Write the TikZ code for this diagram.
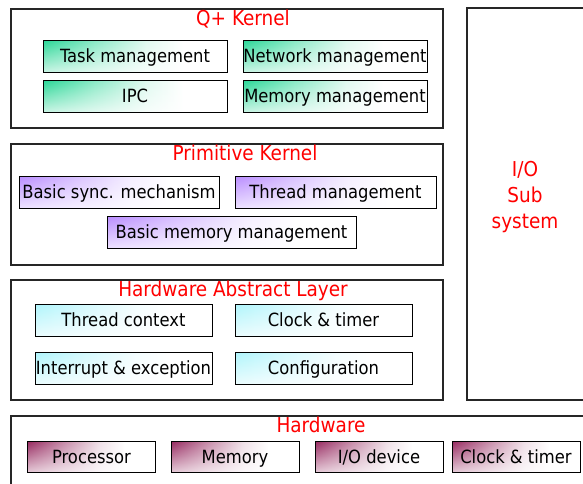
\documentclass[tikz,border=0pt]{standalone}
\usepackage{fontspec}
\setmainfont{DejaVu Sans Condensed}
\usetikzlibrary{positioning,fadings}

\definecolor{qgreen}{RGB}{40,215,150}
\definecolor{pviolet}{RGB}{185,140,255}
\definecolor{hcyan}{RGB}{175,245,252}
\definecolor{hwred}{RGB}{150,40,95}

% colour on the left, white towards the right
\newcommand\fadeshading[2]{%
  \pgfdeclarehorizontalshading{#1}{100bp}{color(0bp)=(#2); color(25bp)=(#2);
    color(39bp)=(#2!55!white); color(53bp)=(#2!15!white); color(63bp)=(white); color(100bp)=(white)}}
\fadeshading{greenfade}{qgreen}
\fadeshading{violetfade}{pviolet}
\fadeshading{cyanfade}{hcyan}
\fadeshading{redfade}{hwred}

% paler towards the bottom
\tikzfading[name=downfade, top color=transparent!100, bottom color=transparent!25]

\tikzset{
  layer/.style={draw=black!85, line width=1.6pt, inner sep=0pt},
  title/.style={text=red, inner sep=0pt, font=\fontsize{20.5}{26}\selectfont},
  module/.style={draw=black, line width=0.7pt, inner sep=0pt, minimum height=32,
    text height=15pt, text depth=2pt, shade, shading=#1,
    path picture={\fill[white, path fading=downfade]
      (path picture bounding box.south west) rectangle (path picture bounding box.north east);}},
}

\begin{document}
\begin{tikzpicture}[x=1pt,y=-1pt,font=\fontsize{18.2}{22}\selectfont]
\clip (0,0) rectangle (583,483);
\fill[white] (0,0) rectangle (583,483);

% Q+ kernel
\node[layer, minimum width=432, minimum height=119] (qk) at (227,68.5) {};
\node[title] (qktitle) at (243,19) {Q+ Kernel};
\node[module=greenfade, minimum width=184] (task) at (135,56) {Task management};
\node[module=greenfade, minimum width=184] (net) at (335,56) {Network management};
\node[module=greenfade, minimum width=184] (ipc) at (135,96) {IPC};
\node[module=greenfade, minimum width=184] (mem) at (335,96) {Memory management};

% primitive kernel
\node[layer, minimum width=432, minimum height=121] (pk) at (227,204.5) {};
\node[title] (pktitle) at (245,153) {Primitive Kernel};
\node[module=violetfade, minimum width=200] (sync) at (119,192) {Basic sync. mechanism};
\node[module=violetfade, minimum width=201] (thread) at (335.5,192) {Thread management};
\node[module=violetfade, minimum width=249] (bmem) at (231.5,232) {Basic memory management};

% HAL
\node[layer, minimum width=432, minimum height=120] (hal) at (227,340) {};
\node[title] (haltitle) at (233,291) {Hardware Abstract Layer};
\node[module=cyanfade, minimum width=177] (ctx) at (123.5,320) {Thread context};
\node[module=cyanfade, minimum width=177] (clk) at (323.5,320) {Clock \& timer};
\node[module=cyanfade, minimum width=177] (irq) at (123.5,368) {Interrupt \& exception};
\node[module=cyanfade, minimum width=177] (conf) at (323.5,368) {Configuration};

% I/O subsystem
\node[layer, minimum width=140, minimum height=392] (io) at (537,204) {};
\node[title, align=center] (iotitle) at (525,197) {I/O\\Sub\\system};

% hardware
\node[layer, minimum width=600, minimum height=100] (hw) at (311,466) {};
\node[title] (hwtitle) at (321,425) {Hardware};
\foreach \x/\name [count=\i] in {91.5/Processor, 235/Memory, 379/{I/O device}, 516/{Clock \& timer}} {
    \node[module=redfade, minimum width=128, minimum height=31] (hw\i) at (\x,456.5) {\name};
}
\end{tikzpicture}
\end{document}
